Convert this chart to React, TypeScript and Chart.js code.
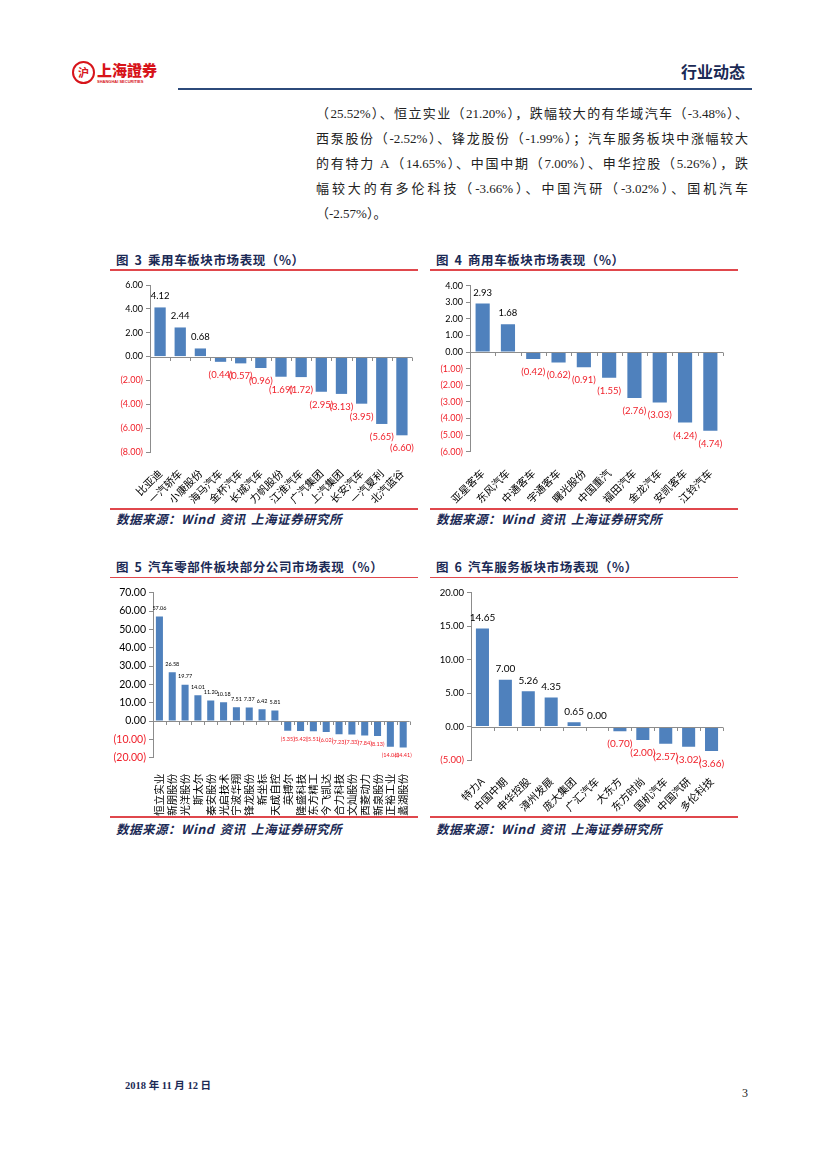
import React, { useEffect, useRef } from "react";
import { Chart, registerables } from "chart.js";
Chart.register(...registerables);

// ---------- data ----------
const c3Categories = ["比亚迪", "一汽轿车", "小康股份", "海马汽车", "金杯汽车", "长城汽车", "力帆股份", "江淮汽车", "广汽集团", "上汽集团", "长安汽车", "一汽夏利", "北汽蓝谷"];
const c3Values = [4.12, 2.44, 0.68, -0.44, -0.57, -0.96, -1.69, -1.72, -2.95, -3.13, -3.95, -5.65, -6.6];
const c3Axis = [-8, 6, 2];

const c4Categories = ["亚星客车", "东风汽车", "中通客车", "宇通客车", "曙光股份", "中国重汽", "福田汽车", "金龙汽车", "安凯客车", "江铃汽车"];
const c4Values = [2.93, 1.68, -0.42, -0.62, -0.91, -1.55, -2.76, -3.03, -4.24, -4.74];
const c4Axis = [-6, 4, 1];

const c5Categories = ["恒立实业", "新朋股份", "光洋股份", "斯太尔", "秦安股份", "光启技术", "宁波华翔", "锋龙股份", "新坐标", "天成自控", "英搏尔", "隆盛科技", "东方精工", "今飞凯达", "合力科技", "文灿股份", "西菱动力", "新泉股份", "正裕工业", "蠡湖股份"];
const c5Values = [57.06, 26.58, 19.77, 14.01, 11.2, 10.18, 7.51, 7.37, 6.42, 5.81, -5.35, -5.42, -5.51, -6.02, -7.23, -7.33, -7.84, -8.13, -14.06, -14.41];
const c5Axis = [-20, 70, 10];

const c6Categories = ["特力A", "中国中期", "申华控股", "漳州发展", "庞大集团", "广汇汽车", "大东方", "东方时尚", "国机汽车", "中国汽研", "多伦科技"];
const c6Values = [14.65, 7.0, 5.26, 4.35, 0.65, 0.0, -0.7, -2.0, -2.57, -3.02, -3.66];
const c6Axis = [-5, 20, 5];

const paragraphLines = [
  "（25.52%）、恒立实业（21.20%），跌幅较大的有华域汽车（-3.48%）、",
  "西泵股份（-2.52%）、锋龙股份（-1.99%）；汽车服务板块中涨幅较大",
  "的有特力 A（14.65%）、中国中期（7.00%）、申华控股（5.26%），跌",
  "幅较大的有多伦科技（-3.66%）、中国汽研（-3.02%）、国机汽车",
  "（-2.57%）。",
];

const titles = ["图 3 乘用车板块市场表现（%）", "图 4 商用车板块市场表现（%）", "图 5 汽车零部件板块部分公司市场表现（%）", "图 6 汽车服务板块市场表现（%）"];
const sourceText = "数据来源：Wind 资讯 上海证券研究所";

// ---------- styles ----------
const BAR = "#4F81BD";
const AXIS = "#8C8C8C";
const RED = "#F0202A";
const NAVY = "#1B2A55";
const LINE_RED = "#E0474C";
const CJK = '"Noto Sans CJK SC", sans-serif';
const SERIF = '"Liberation Serif", "Noto Sans CJK SC", serif';
const NUM = "Lato, Calibri, sans-serif";

const fmt = (v: number) => (v < 0 ? `(${Math.abs(v).toFixed(2)})` : v.toFixed(2));

type Props = {
  categories: string[];
  values: number[];
  axis: number[];
  left: number; top: number; width: number; height: number;
  axisWidth: number; xAxisHeight: number; padTop: number; padRight: number;
  tickSize: number; labelSize: number; catSize: number; rotation: number; catPadding: number;
  barPct: number; posOff: number; negOff: number;
};

function BarChart(p: Props) {
  const ref = useRef<HTMLCanvasElement>(null);
  useEffect(() => {
    const canvas = ref.current!;
    const labelPlugin = {
      id: "valueLabels",
      afterDatasetsDraw(chart: any) {
        const ctx = chart.ctx;
        const area = chart.chartArea;
        const ys = chart.scales.y;
        const zero = Math.round(ys.getPixelForValue(0)) + 0.5;
        ctx.save();
        ctx.strokeStyle = AXIS;
        ctx.lineWidth = 1;
        ctx.beginPath();
        ctx.moveTo(area.left, zero);
        ctx.lineTo(area.right, zero);
        const n = p.categories.length;
        const w = (area.right - area.left) / n;
        for (let i = 0; i <= n; i++) {
          const px = Math.round(area.left + i * w) + 0.5;
          ctx.moveTo(px, zero);
          ctx.lineTo(px, zero + 3.5);
        }
        ctx.stroke();
        ctx.font = `${p.labelSize}px ${NUM}`;
        ctx.textAlign = "center";
        ctx.textBaseline = "middle";
        const meta = chart.getDatasetMeta(0);
        meta.data.forEach((bar: any, i: number) => {
          const v = p.values[i];
          if (v >= 0) {
            ctx.fillStyle = "#000";
            ctx.fillText(fmt(v), bar.x, bar.y - p.posOff);
          } else {
            ctx.fillStyle = RED;
            ctx.fillText(fmt(v), bar.x, bar.y + p.negOff);
          }
        });
        ctx.restore();
      },
    };
    const chart = new Chart(canvas, {
      type: "bar",
      data: {
        labels: p.categories,
        datasets: [
          {
            data: p.values,
            backgroundColor: BAR,
            borderWidth: 0,
            barPercentage: p.barPct,
            categoryPercentage: 1,
          },
        ],
      },
      options: {
        animation: false,
        responsive: false,
        maintainAspectRatio: false,
        layout: { padding: { top: p.padTop, right: p.padRight, left: 0, bottom: 0 } },
        plugins: { legend: { display: false }, tooltip: { enabled: false } },
        scales: {
          y: {
            min: p.axis[0],
            max: p.axis[1],
            ticks: {
              stepSize: p.axis[2],
              font: { family: NUM, size: p.tickSize },
              color: (c: any) => (c.tick && c.tick.value < 0 ? RED : "#000"),
              callback: (v: any) => fmt(Number(v)),
              padding: 3,
            },
            grid: { drawOnChartArea: false, drawTicks: true, tickLength: 4, color: AXIS },
            border: { display: true, color: AXIS },
            afterFit: (s: any) => {
              s.width = p.axisWidth;
            },
          },
          x: {
            ticks: {
              font: { family: CJK, size: p.catSize },
              color: "#000",
              maxRotation: p.rotation,
              minRotation: p.rotation,
              autoSkip: false,
              padding: p.catPadding,
            },
            grid: { display: false },
            border: { display: false },
            afterFit: (s: any) => {
              s.height = p.xAxisHeight;
            },
          },
        },
      },
      plugins: [labelPlugin],
    } as any);
    return () => chart.destroy();
  }, []);
  return (
    <canvas
      ref={ref}
      width={p.width}
      height={p.height}
      style={{ position: "absolute", left: p.left, top: p.top, width: p.width, height: p.height }}
    />
  );
}

function Txt(props: { x: number; y: number; size: number; children: any; style?: any }) {
  const lh = Math.round(props.size * 1.4);
  return (
    <div
      style={{
        position: "absolute",
        left: props.x,
        top: props.y - lh / 2,
        fontSize: props.size,
        lineHeight: `${lh}px`,
        whiteSpace: "pre",
        ...(props.style || {}),
      }}
    >
      {props.children}
    </div>
  );
}

function HLine(props: { x1: number; x2: number; y: number; color: string; h: number }) {
  return (
    <div
      style={{
        position: "absolute",
        left: props.x1,
        top: props.y - props.h / 2,
        width: props.x2 - props.x1,
        height: props.h,
        background: props.color,
      }}
    />
  );
}

function Panel(props: { x: number; titleY: number; lineY: number; bottomY: number; srcY: number; title: string }) {
  return (
    <>
      <Txt x={props.x + 6} y={props.titleY} size={12.5} style={{ fontFamily: CJK, fontWeight: 700, color: NAVY, letterSpacing: 0.6, wordSpacing: 2 }}>
        {props.title}
      </Txt>
      <HLine x1={props.x} x2={props.x + 308} y={props.lineY} color={LINE_RED} h={1.5} />
      <HLine x1={props.x} x2={props.x + 308} y={props.bottomY} color={LINE_RED} h={1.5} />
      <Txt x={props.x + 6} y={props.srcY} size={12.5} style={{ fontFamily: CJK, fontWeight: 700, fontStyle: "italic", color: NAVY, letterSpacing: 0.5, wordSpacing: 2 }}>
        {sourceText}
      </Txt>
    </>
  );
}

export default function App() {
  return (
    <div
      style={{
        position: "absolute",
        left: 0,
        top: 0,
        width: 827,
        height: 1169,
        background: "#fff",
        overflow: "hidden",
      }}
    >
      {/* header logo */}
      <div
        style={{
          position: "absolute",
          left: 72,
          top: 61,
          width: 19,
          height: 19,
          borderRadius: "50%",
          border: "2px solid #D7141A",
          color: "#D7141A",
          fontSize: 11,
          lineHeight: "19px",
          textAlign: "center",
          fontFamily: CJK,
          fontWeight: 700,
        }}
      >
        沪
      </div>
      <Txt x={97} y={69} size={15} style={{ fontFamily: CJK, fontWeight: 900, color: "#D7141A", letterSpacing: 0 }}>
        上海證券
      </Txt>
      <Txt x={97} y={82} size={4} style={{ fontFamily: "Liberation Sans", fontWeight: 700, color: "#D7141A" }}>
        SHANGHAI SECURITIES
      </Txt>
      <Txt x={681} y={71} size={16} style={{ fontFamily: CJK, fontWeight: 700, color: NAVY }}>
        行业动态
      </Txt>
      <HLine x1={178} x2={752} y={89} color="#2C4A7A" h={2} />

      {/* paragraph */}
      {paragraphLines.map((t, i) => (
        <div
          key={i}
          style={{
            position: "absolute",
            left: 316,
            top: 114 + i * 25 - 10,
            width: 432,
            height: 20,
            fontSize: 13,
            lineHeight: "20px",
            fontFamily: SERIF,
            color: "#222",
            whiteSpace: "nowrap",
            textAlign: i < paragraphLines.length - 1 ? "justify" : "left",
            textAlignLast: i < paragraphLines.length - 1 ? "justify" : "left",
          } as any}
        >
          {t}
        </div>
      ))}

      {/* panels */}
      <Panel x={110} titleY={260} lineY={270} bottomY={509} srcY={519} title={titles[0]} />
      <Panel x={430} titleY={260} lineY={270} bottomY={509} srcY={519} title={titles[1]} />
      <Panel x={110} titleY={567} lineY={577.5} bottomY={817} srcY={829} title={titles[2]} />
      <Panel x={430} titleY={567} lineY={577.5} bottomY={817} srcY={829} title={titles[3]} />

      <BarChart
        categories={c3Categories}
        values={c3Values}
        axis={c3Axis}
        left={110} top={275} width={310} height={232}
        axisWidth={40} xAxisHeight={55} padTop={10} padRight={8}
        tickSize={9} labelSize={9.5} catSize={10.5} rotation={45} catPadding={7}
        barPct={0.56} posOff={11.5} negOff={13}
      />
      <BarChart
        categories={c4Categories}
        values={c4Values}
        axis={c4Axis}
        left={430} top={275} width={310} height={232}
        axisWidth={40} xAxisHeight={55.3} padTop={10.7} padRight={17}
        tickSize={9} labelSize={9.5} catSize={10.5} rotation={45} catPadding={7}
        barPct={0.56} posOff={11} negOff={13}
      />
      <BarChart
        categories={c5Categories}
        values={c5Values}
        axis={c5Axis}
        left={110} top={580} width={314} height={237}
        axisWidth={43} xAxisHeight={59.3} padTop={12.7} padRight={8}
        tickSize={10.5} labelSize={5.5} catSize={10.5} rotation={90} catPadding={8}
        barPct={0.55} posOff={8.5} negOff={8}
      />
      <BarChart
        categories={c6Categories}
        values={c6Values}
        axis={c6Axis}
        left={430} top={580} width={310} height={237}
        axisWidth={41} xAxisHeight={57} padTop={12.7} padRight={17}
        tickSize={9.5} labelSize={10} catSize={10.5} rotation={45} catPadding={7}
        barPct={0.57} posOff={10.5} negOff={12.7}
      />

      {/* footer */}
      <Txt x={125} y={1085} size={10.5} style={{ fontFamily: SERIF, fontWeight: 700, color: NAVY }}>
        2018 年 11 月 12 日
      </Txt>
      <Txt x={742} y={1093} size={12} style={{ fontFamily: SERIF, color: "#222" }}>
        3
      </Txt>
    </div>
  );
}
